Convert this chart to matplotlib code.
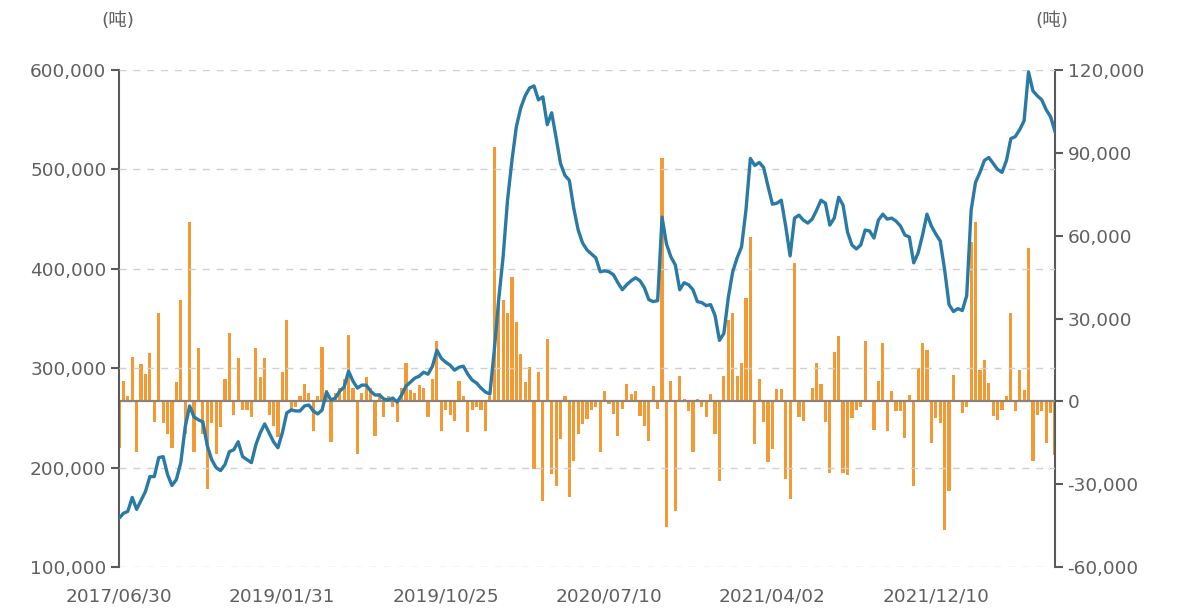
import matplotlib
matplotlib.use("Agg")
import matplotlib.pyplot as plt
import numpy as np
from matplotlib.ticker import FuncFormatter, MultipleLocator

plt.rcParams['font.family'] = ['DejaVu Sans', 'Noto Sans CJK SC']

# inventory (thousand tons, left axis)
stock_k = [149,154,156,170,158,167,176,191,191,210,
211,193,182,188,205,241,262,251,248,246,
222,208,200,197,203,216,218,226,211,208,
205,223,235,244,235,226,220,235,255,258,
257,257,262,263,257,254,258,276,268,270,
277,281,297,287,280,283,283,277,273,273,
269,268,270,266,273,282,286,290,292,296,
294,302,318,310,306,303,298,301,302,294,
288,285,280,276,274,318,369,412,469,509,
543,562,574,582,584,570,573,545,557,532,
506,494,489,461,439,426,419,415,411,397,
398,397,394,386,379,384,388,391,388,381,
369,367,368,452,425,412,404,379,386,384,
379,367,366,363,364,353,328,335,371,397,
411,422,459,511,504,507,502,483,465,466,
469,443,413,451,454,449,446,450,459,469,
466,444,451,472,464,437,424,420,424,439,
438,431,449,455,450,451,448,443,434,432,
406,416,434,455,443,435,428,399,364,357,
360,358,373,459,487,497,509,512,506,500,
497,509,531,533,540,549,598,579,574,570,
560,553,538]

# weekly change (thousand tons, right axis)
change_k = [-17, 7.5, 2, 16, -18.5, 13.5, 10, 17.5, -7.6, 32,
-8, -12, -17, 7, 36.6, -12, 65, -18.5, 19.2, -12,
-31.7, -8, -19, -9.4, 8, 24.6, -5, 15.6, -3, -3,
-5.8, 19.2, 8.7, 15.6, -5, -9, -13, 10.5, 29.3, -3,
-2, 2, 6.3, 3, -10.6, 2, 19.6, 4, -14.8, 3,
5, 8, 23.9, 5, -19, 3, 8.7, 5, -12.4, 3,
-5.8, 2, -2, -7.6, 5, 14, 4, 3, 6, 5,
-5.8, 8, 22, -10.6, -3, -5, -7, 7.5, 2, -11.2,
-3, -2, -3, -10.6, 2, 92, 35.5, 36.6, 32, 45,
28.6, 17, 6.9, 12.3, -24.5, 10.5, -36, 22.6, -26.3, -30.5,
-13.6, 2, -34.8, -21.5, -11.8, -8.2, -6.4, -3, -2, -18.5,
3.9, -1, -4.6, -12.4, -2.8, 6.3, 2.7, 3.9, -5.2, -8.8,
-14.2, 5.7, -2.8, 88, -45.6, 7.5, -39.6, 9.3, 0.8, -3.4,
-18.5, 0.8, -2, -5.8, 2.7, -11.8, -28.7, 9.3, 29.3, 32,
9.3, 14, 37.3, 59.4, -15.4, 8.1, -7.6, -22, -17.3, 4.5,
4.5, -28, -35.4, 50, -5.8, -7, 0.5, 5, 14, 6.3,
-7.6, -26, 18, 23.5, -26, -26.5, -6, -3, -2, 21.7,
0.5, -10.3, 7.2, 21, -10.9, 3.6, -3.6, -3.6, -13.3, 2.4,
-30.8, 12, 21, 18.7, -15, -6, -7.8, -46.5, -32.6, 9.7,
0.5, -4.2, -2, 57.6, 64.8, 11.5, 15, 6.6, -5.4, -6.6,
-3, 1.8, 32, -3.6, 11.5, 4.2, 55.4, -21.7, -4.8, -3.6,
-15, -4.2, -19.3]

tick_labels = ["2017/06/30", "2019/01/31", "2019/10/25",
               "2020/07/10", "2021/04/02", "2021/12/10"]
tick_step = 37

stock = np.array(stock_k) * 1000
change = np.array(change_k) * 1000
x = np.arange(len(stock))

fig = plt.figure(figsize=(11.78, 6.11), dpi=100)
ax = fig.add_axes([0.101, 0.072, 0.7946, 0.8134])
ax2 = ax.twinx()

txt = '#606060'
spine_c = '#5a5a5a'
fs = 13.3

ax2.bar(x, change, width=0.72, color='#f39a34', zorder=2)
ax2.axhline(0, color='#8c8279', lw=1.6, zorder=3)
ax2.set_ylim(-60000, 120000)
ax2.yaxis.set_major_locator(MultipleLocator(30000))

ax.plot(x, stock, color='#2a7aa6', lw=2.4, zorder=5, solid_joinstyle='round')
ax.set_ylim(100000, 600000)
ax.yaxis.set_major_locator(MultipleLocator(100000))
ax.set_zorder(ax2.get_zorder() + 1)
ax.patch.set_visible(False)

ax.set_xlim(0, len(x) - 1)
ax.set_xticks(np.arange(0, len(x), tick_step)[:len(tick_labels)])
ax.set_xticklabels(tick_labels)

fmt = FuncFormatter(lambda v, p: f"{int(v):,}")
ax.yaxis.set_major_formatter(fmt)
ax2.yaxis.set_major_formatter(fmt)

ax.grid(axis='y', color='#d0d0d0', ls=(0, (5, 5)), lw=1.0)
ax.set_axisbelow(False)

for a in (ax, ax2):
    for s in ('top', 'bottom'):
        a.spines[s].set_visible(False)
ax.spines['right'].set_visible(False)
ax2.spines['left'].set_visible(False)
ax.spines['left'].set_color(spine_c)
ax.spines['left'].set_linewidth(1.5)
ax2.spines['right'].set_color(spine_c)
ax2.spines['right'].set_linewidth(1.5)

ax.tick_params(axis='y', direction='out', length=6, width=1.5, color=spine_c,
               labelsize=fs, labelcolor=txt, pad=3)
ax2.tick_params(axis='y', direction='out', length=6, width=1.5, color=spine_c,
                labelsize=fs, labelcolor=txt, pad=3)
ax.tick_params(axis='x', length=0, labelsize=fs, labelcolor=txt, pad=15)

fig.text(0.100, 0.965, "(吨)", ha='center', va='center', fontsize=fs, color=txt)
fig.text(0.893, 0.965, "(吨)", ha='center', va='center', fontsize=fs, color=txt)

fig.savefig("out.png", dpi=100)
